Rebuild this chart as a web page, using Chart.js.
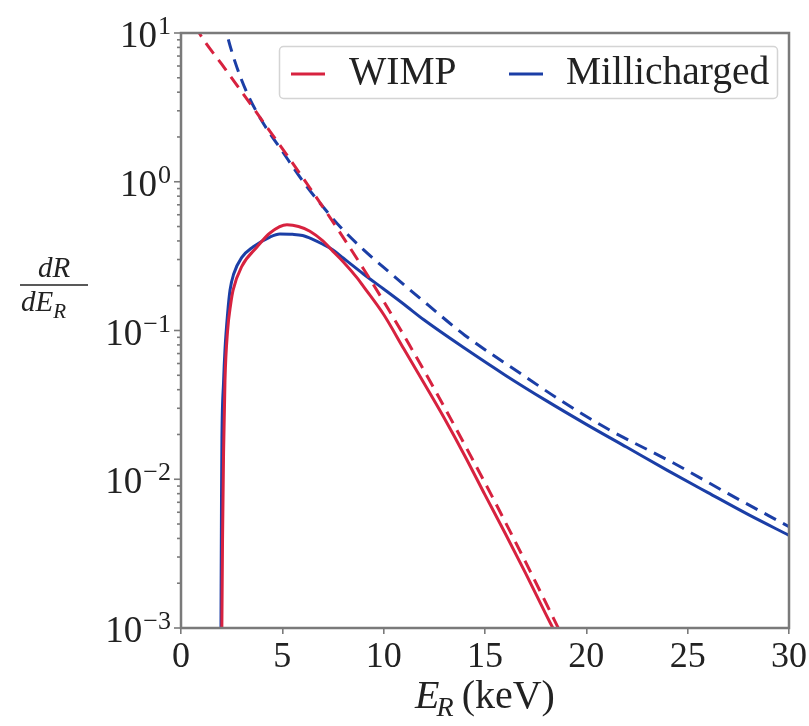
<!DOCTYPE html>
<html>
<head>
<meta charset="utf-8">
<script src="https://cdn.jsdelivr.net/npm/chart.js@4/dist/chart.umd.min.js"></script>
<style>
  html, body { margin: 0; padding: 0; background: #ffffff; }
  #wrap { width: 809px; height: 726px; }
</style>
</head>
<body>
<div id="wrap"><canvas id="chart" width="809" height="726"></canvas></div>
<script>
// Recoil spectra dR/dE_R versus recoil energy (keV); log-scaled rate axis.
// Solid curves include the detector efficiency, dashed curves are the raw spectra.

const wimpEnergy      = [2.00, 2.05, 2.10, 2.17, 2.30, 2.45, 2.57, 3.00, 3.75, 4.39, 5.23, 5.80, 6.36, 7.00, 7.50, 8.00, 8.70, 9.00, 10.0, 11.0, 12.0, 13.0, 14.0, 15.0, 16.0, 17.0, 18.0, 18.5, 19.0];
const wimpRate        = [0.0005, 0.004, 0.015, 0.046, 0.10, 0.15, 0.187, 0.27, 0.364, 0.452, 0.513, 0.50, 0.465, 0.40, 0.34, 0.29, 0.225, 0.198, 0.128, 0.075, 0.044, 0.0256, 0.0144, 0.00785, 0.00432, 0.00234, 0.00124, 0.00091, 0.00066];

const wimpRawEnergy   = [0.70, 0.94, 2.00, 2.91, 4.00, 5.00, 6.36, 7.70, 9.00, 10.0, 11.3, 12.5, 14.1, 15.5, 17.0, 18.6, 19.0];
const wimpRawRate     = [11.3, 9.8, 6.19, 4.17, 2.59, 1.67, 0.908, 0.488, 0.260, 0.157, 0.0787, 0.0405, 0.0161, 0.0070, 0.00278, 0.00101, 0.00078];

const mcpEnergy       = [1.96, 1.98, 2.00, 2.02, 2.10, 2.17, 2.30, 2.42, 2.60, 3.00, 3.55, 4.39, 4.88, 5.50, 6.00, 6.50, 7.00, 7.50, 8.00, 9.00, 10.0, 11.0, 12.0, 14.0, 16.0, 18.0, 20.0, 22.0, 24.0, 26.0, 28.0, 30.0];
const mcpRate         = [0.0003, 0.002, 0.008, 0.019, 0.045, 0.074, 0.13, 0.187, 0.24, 0.31, 0.364, 0.425, 0.445, 0.443, 0.435, 0.41, 0.38, 0.348, 0.307, 0.24, 0.19, 0.15, 0.1175, 0.0759, 0.0501, 0.0339, 0.0234, 0.0164, 0.01148, 0.00813, 0.00578, 0.0042];

const mcpRawEnergy    = [2.10, 2.27, 2.70, 3.26, 4.00, 5.00, 6.20, 7.00, 7.84, 9.00, 10.3, 12.2, 14.0, 16.7, 18.7, 21.0, 24.3, 27.0, 30.0];
const mcpRawRate      = [12.5, 9.8, 6.2, 3.95, 2.55, 1.6, 0.93, 0.68, 0.50, 0.35, 0.245, 0.148, 0.093, 0.052, 0.0341, 0.0220, 0.01285, 0.0080, 0.0048];

const seriesNames     = ['WIMP', 'Millicharged'];
const xTickValues     = [0, 5, 10, 15, 20, 25, 30];
const yTickExponents  = [1, 0, -1, -2, -3];

const RED  = '#d7223f';
const BLUE = '#1b3ea6';
const FRAME = '#7a7a7a';
const SERIF = "'Liberation Serif','DejaVu Serif',serif";

function points(xs, ys) { return xs.map((x, i) => ({ x: x, y: ys[i] })); }

function curve(label, xs, ys, color, dashed) {
  return {
    label: label,
    data: points(xs, ys),
    borderColor: color,
    backgroundColor: color,
    borderWidth: 3,
    borderDash: dashed ? [13, 8] : [],
    pointRadius: 0,
    fill: false,
    tension: 0.4,
    cubicInterpolationMode: 'monotone'
  };
}

// Frame, tick marks, math-style labels and the legend box
const decorations = {
  id: 'decorations',
  afterDatasetsDraw(chart) {
    const ctx = chart.ctx;
    const a = chart.chartArea;
    const ys = chart.scales.y;
    ctx.save();

    // frame
    ctx.strokeStyle = FRAME;
    ctx.lineWidth = 2.5;
    ctx.strokeRect(a.left, a.top, a.right - a.left, a.bottom - a.top);

    // y ticks: majors at powers of ten, minors at 2..9
    ctx.lineWidth = 1.6;
    for (let e = -3; e <= 1; e++) {
      const py = ys.getPixelForValue(Math.pow(10, e));
      ctx.beginPath(); ctx.moveTo(a.left - 7, py); ctx.lineTo(a.left, py); ctx.stroke();
      if (e < 1) {
        for (let m = 2; m <= 9; m++) {
          const pm = ys.getPixelForValue(m * Math.pow(10, e));
          ctx.beginPath(); ctx.moveTo(a.left - 4, pm); ctx.lineTo(a.left, pm); ctx.stroke();
        }
      }
    }

    // y tick labels: 10 with a raised exponent
    ctx.fillStyle = '#222';
    ctx.textBaseline = 'alphabetic';
    ctx.textAlign = 'left';
    yTickExponents.forEach(e => {
      const py = ys.getPixelForValue(Math.pow(10, e));
      const exp = e < 0 ? '\u2212' + Math.abs(e) : String(e);
      ctx.font = '26px ' + SERIF;
      const ew = ctx.measureText(exp).width;
      ctx.font = '37px ' + SERIF;
      const bw = ctx.measureText('10').width;
      const right = a.left - 10;
      const x0 = right - ew - bw - 1;
      ctx.fillText('10', x0, py + 14);
      ctx.font = '26px ' + SERIF;
      ctx.fillText(exp, x0 + bw + 1, py + 1);
    });

    // y axis title: dR / dE_R
    const fx = 54, fy = 285;
    ctx.textAlign = 'center';
    ctx.font = 'italic 29px ' + SERIF;
    ctx.fillText('dR', fx, fy - 8);
    ctx.lineWidth = 1.6;
    ctx.strokeStyle = '#222';
    ctx.beginPath(); ctx.moveTo(20, fy); ctx.lineTo(88, fy); ctx.stroke();
    ctx.textAlign = 'left';
    ctx.font = 'italic 29px ' + SERIF;
    const dw = ctx.measureText('dE').width;
    ctx.fillText('dE', 21, fy + 26);
    ctx.font = 'italic 21px ' + SERIF;
    ctx.fillText('R', 21 + dw, fy + 33);

    // x axis title: E_R (keV)
    const tx = 485, ty = 708;
    ctx.font = 'italic 40px ' + SERIF;
    const wE = ctx.measureText('E').width;
    ctx.font = 'italic 28px ' + SERIF;
    const wR = ctx.measureText('R').width;
    ctx.font = '40px ' + SERIF;
    const wK = ctx.measureText('(keV)').width;
    const total = wE + wR + 5 + wK;
    let cx = tx - total / 2;
    ctx.font = 'italic 40px ' + SERIF;
    ctx.fillText('E', cx, ty); cx += wE;
    ctx.font = 'italic 28px ' + SERIF;
    ctx.fillText('R', cx - 3, ty + 8); cx += wR + 5;
    ctx.font = '40px ' + SERIF;
    ctx.fillText('(keV)', cx, ty);

    // legend
    const L = { x: 279.5, y: 46.5, w: 498, h: 52 };
    ctx.beginPath();
    ctx.roundRect(L.x, L.y, L.w, L.h, 4);
    ctx.fillStyle = 'rgba(255,255,255,0.85)';
    ctx.fill();
    ctx.strokeStyle = '#d4d4d4';
    ctx.lineWidth = 1.5;
    ctx.stroke();
    const entries = [
      { name: seriesNames[0], color: RED,  x1: 291, x2: 325, tx: 349 },
      { name: seriesNames[1], color: BLUE, x1: 509, x2: 543, tx: 566 }
    ];
    entries.forEach(en => {
      ctx.strokeStyle = en.color;
      ctx.lineWidth = 3;
      ctx.beginPath(); ctx.moveTo(en.x1, 74); ctx.lineTo(en.x2, 74); ctx.stroke();
      ctx.fillStyle = '#222';
      ctx.font = '39.5px ' + SERIF;
      ctx.fillText(en.name, en.tx, 84);
    });

    ctx.restore();
  }
};

new Chart(document.getElementById('chart'), {
  type: 'line',
  data: {
    datasets: [
      curve(seriesNames[0] + ' (raw)', wimpRawEnergy, wimpRawRate, RED, true),
      curve(seriesNames[1] + ' (raw)', mcpRawEnergy, mcpRawRate, BLUE, true),
      curve(seriesNames[0], wimpEnergy, wimpRate, RED, false),
      curve(seriesNames[1], mcpEnergy, mcpRate, BLUE, false)
    ]
  },
  options: {
    responsive: false,
    animation: false,
    devicePixelRatio: 1,
    layout: { padding: { top: 33, right: 20, left: 0, bottom: 0 } },
    plugins: {
      legend: { display: false },
      tooltip: { enabled: false }
    },
    scales: {
      x: {
        type: 'linear',
        min: 0,
        max: 30,
        afterBuildTicks(scale) { scale.ticks = xTickValues.map(v => ({ value: v })); },
        afterFit(scale) { scale.height = 98; },
        ticks: {
          color: '#222',
          font: { family: SERIF, size: 36 },
          padding: 2,
          maxRotation: 0,
          autoSkip: false
        },
        grid: { display: true, drawOnChartArea: false, tickLength: 6, color: FRAME, lineWidth: 1.6 },
        border: { display: false }
      },
      y: {
        type: 'logarithmic',
        min: 0.001,
        max: 10,
        afterFit(scale) { scale.width = 181; },
        ticks: { display: false },
        grid: { display: false },
        border: { display: false }
      }
    }
  },
  plugins: [decorations]
});
</script>
</body>
</html>
